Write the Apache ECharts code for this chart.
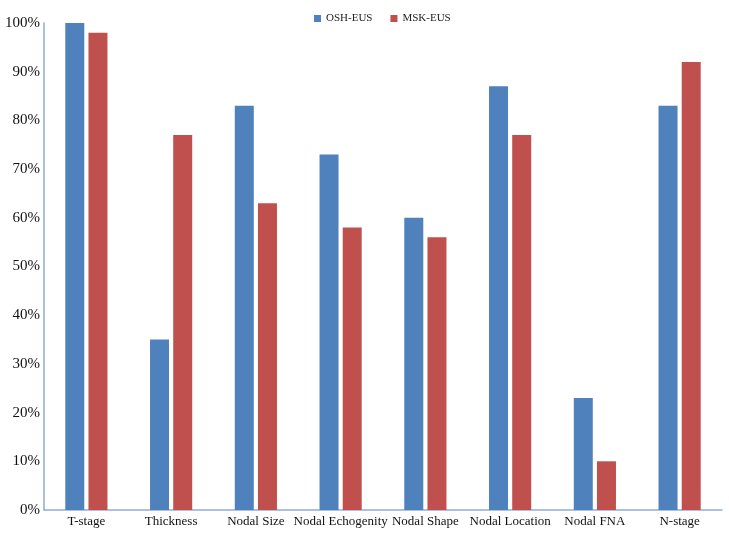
<!DOCTYPE html>
<html>
<head>
<meta charset="utf-8">
<script src="https://cdn.jsdelivr.net/npm/echarts@6/dist/echarts.min.js"></script>
<style>
  html, body { margin: 0; padding: 0; background: #fff; }
  #chart { width: 729px; height: 535px; }
</style>
</head>
<body>
<div id="chart"></div>
<script>
// categories and values
const categories = ["T-stage", "Thickness", "Nodal Size", "Nodal Echogenity", "Nodal Shape", "Nodal Location", "Nodal FNA", "N-stage"]
const oshEus = [100, 35, 83, 73, 60, 87, 23, 83]
const mskEus = [98, 77, 63, 58, 56, 77, 10, 92]

const font = "Liberation Serif"
const myChart = echarts.init(document.getElementById("chart"))

const option = {
  animation: false,
  textStyle: { fontFamily: font },
  legend: {
    top: 8,
    left: 309,
    itemWidth: 7,
    itemHeight: 7,
    itemGap: 18,
    icon: "rect",
    textStyle: { fontFamily: font, fontSize: 11, color: "#222" },
    data: ["OSH-EUS", "MSK-EUS"]
  },
  grid: {
    left: 44,
    right: 7,
    top: 23,
    bottom: 25
  },
  xAxis: {
    type: "category",
    data: categories,
    axisLine: { lineStyle: { color: "#8eaed6", width: 1.5 } },
    axisTick: { show: false },
    axisLabel: { fontFamily: font, fontSize: 13, color: "#111", margin: 5, interval: 0 }
  },
  yAxis: {
    type: "value",
    min: 0,
    max: 100,
    interval: 10,
    splitLine: { show: false },
    axisLine: { show: true, lineStyle: { color: "#8eaed6", width: 1.5 } },
    axisTick: { show: false },
    axisLabel: { formatter: "{value}%", fontFamily: font, fontSize: 15, color: "#111", margin: 4 }
  },
  series: [
    {
      name: "OSH-EUS",
      type: "bar",
      barWidth: 19,
      barGap: "22%",
      itemStyle: { color: "#4f81bd" },
      data: oshEus
    },
    {
      name: "MSK-EUS",
      type: "bar",
      barWidth: 19,
      barGap: "22%",
      itemStyle: { color: "#c0504d" },
      data: mskEus
    }
  ]
}
myChart.setOption(option, true)
</script>
</body>
</html>
